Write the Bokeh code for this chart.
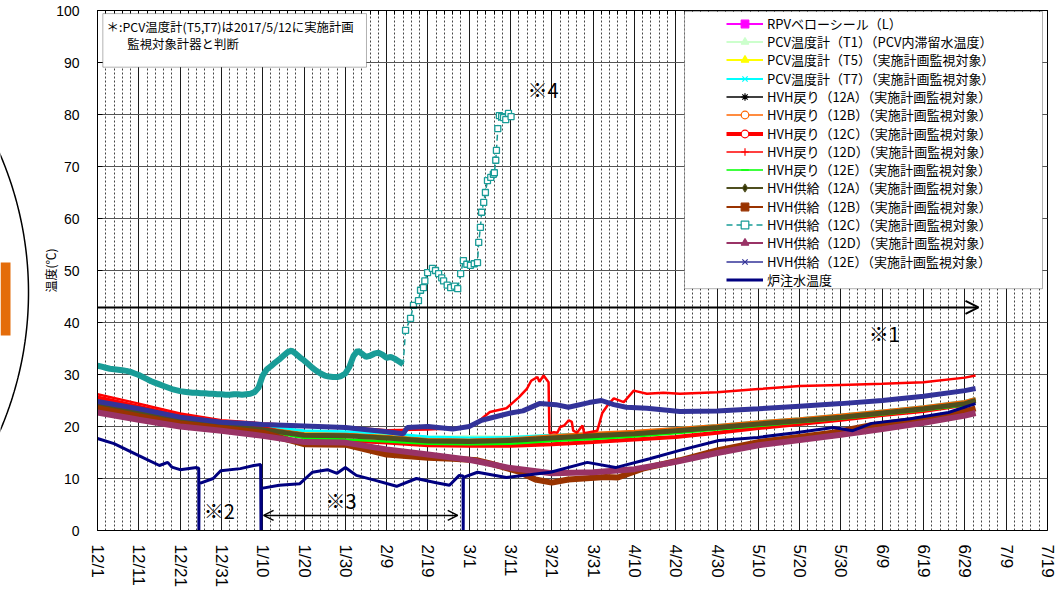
import math
from datetime import datetime, timedelta
from bokeh.plotting import figure
from bokeh.models import (Range1d, FixedTicker, CustomJSTickFormatter, Legend, LegendItem,
                          BoxAnnotation, Label, Arrow, OpenHead, DatetimeAxis)
from bokeh.layouts import row
from bokeh.embed import file_html
from bokeh.resources import INLINE


def D(s):
    md, _, hh = s.partition(" ")
    m, d = (int(v) for v in md.split("-"))
    return datetime(2017 if m == 12 else 2018, m, d, int(hh) if hh else 0)


EPOCH = datetime(1970, 1, 1)


def ms(dt):
    return (dt - EPOCH).total_seconds() * 1000.0


# ---------------- data ----------------
dates_10d = ["12-01", "12-11", "12-21", "12-31", "01-10", "01-20", "01-30", "02-09", "02-19",
             "03-01", "03-11", "03-21", "03-31", "04-10", "04-20", "04-30", "05-10", "05-20",
             "05-30", "06-09", "06-19", "06-29", "07-01 14"]

rpv_L = [24.1, 22.7, 21.3, 20.4, 19.6, 18.6, 18.5, 18.2, 17.6, 17.5, 17.7, 18.3, 18.6, 18.9, 19.4,
         20.0, 20.7, 21.3, 22.0, 22.8, 23.6, 24.6, 25.2]
pcv_t1 = [24.4, 23.0, 21.6, 20.6, 19.8, 18.9, 18.8, 18.5, 18.0, 18.1, 18.0, 18.3, 18.5, 18.8, 19.4,
          20.0, 20.7, 21.3, 22.0, 22.8, 23.6, 24.6, 25.2]
pcv_t5 = [24.3, 22.9, 21.5, 20.5, 19.8, 18.8, 18.6, 18.3, 17.6, 17.5, 17.7, 18.1, 18.5, 18.9, 19.5,
          20.1, 20.8, 21.4, 22.1, 22.9, 23.7, 24.7, 25.2]
pcv_t7 = [24.5, 23.0, 21.6, 20.7, 20.0, 19.2, 19.0, 18.7, 18.0, 17.8, 17.9, 18.3, 18.6, 19.0, 19.6,
          20.2, 20.9, 21.5, 22.2, 23.0, 23.8, 24.8, 25.4]
ret_12a = [24.2, 22.8, 21.4, 20.4, 19.6, 18.5, 18.4, 18.0, 17.4, 17.3, 17.5, 18.0, 18.4, 18.8, 19.4,
           20.0, 20.7, 21.3, 22.0, 22.8, 23.6, 24.6, 25.1]
ret_12b = [24.3, 22.9, 21.5, 20.5, 19.7, 18.6, 18.5, 18.1, 17.5, 17.4, 17.6, 18.2, 18.7, 19.1, 19.6,
           20.2, 20.9, 21.5, 22.2, 23.0, 23.8, 24.8, 25.4]
ret_12c = [25.6, 23.8, 22.0, 20.8, 19.7, 18.0, 17.3, 16.9, 16.4, 16.3, 16.3, 16.6, 17.0, 17.5, 18.0,
           18.8, 19.7, 20.5, 21.3, 22.2, 23.0, 24.2, 24.9]
ret_12e = [23.8, 22.4, 21.0, 20.0, 19.2, 17.8, 17.5, 17.1, 16.7, 16.6, 16.7, 17.2, 17.6, 18.1, 18.7,
           19.4, 20.1, 20.8, 21.5, 22.3, 23.1, 24.1, 24.8]
sup_12a = [24.0, 22.6, 21.2, 20.2, 19.4, 18.3, 18.2, 17.8, 17.2, 17.1, 17.3, 17.8, 18.2, 18.6, 19.2,
           19.8, 20.5, 21.1, 21.8, 22.6, 23.4, 24.4, 25.0]
sup_12d = [22.7, 21.3, 20.0, 19.2, 18.2, 17.0, 16.9, 15.6, 14.6, 13.6, 12.0, 11.0, 11.2, 11.8, 13.2,
           14.9, 16.4, 17.4, 18.4, 19.5, 20.7, 22.1, 22.6]

ret_12d_dates = ["12-01", "12-11", "12-21", "12-31", "01-10", "01-20", "01-30", "02-09", "02-19",
                 "03-01", "03-04", "03-06", "03-10", "03-13", "03-15", "03-16", "03-17 12", "03-18",
                 "03-19", "03-20 05", "03-20 10", "03-21 12", "03-22 08", "03-23", "03-24",
                 "03-25 02", "03-25 20", "03-26 04", "03-27 02", "03-28 10", "03-28 20", "04-01",
                 "04-02 05", "04-03 10", "04-05", "04-07 10", "04-09 20", "04-13", "04-17", "04-21",
                 "04-30", "05-10", "05-20", "05-30", "06-09", "06-19", "06-29", "07-01 14"]
ret_12d = [26.2, 24.4, 22.5, 21.2, 20.6, 20.2, 19.9, 19.3, 19.4,
           19.8, 21.5, 22.8, 23.5, 25.6, 27.3, 28.8, 29.5, 28.6,
           29.8, 28.5, 18.7, 18.9, 18.8, 19.9, 20.2,
           21.2, 20.9, 19.2, 18.8, 20.2, 18.7, 19.2,
           22.6, 24.0, 25.4, 24.7, 26.9, 26.3, 26.5, 26.3,
           26.6, 27.2, 27.8, 28.0, 28.2, 28.5, 29.4, 29.8]

sup_12b_dates = ["12-01", "12-11", "12-21", "12-31", "01-10", "01-20", "01-30", "02-09", "02-19",
                 "02-25", "03-03", "03-06", "03-13", "03-17", "03-21", "03-25", "04-03", "04-06",
                 "04-12", "04-21", "04-30", "05-10", "05-19", "05-28", "06-06", "06-16", "06-25",
                 "07-01 14"]
sup_12b = [23.5, 22.0, 20.6, 19.7, 18.8, 16.6, 16.5, 14.6, 14.0,
           13.8, 13.5, 12.9, 11.3, 9.8, 9.2, 9.8, 10.3, 10.2,
           11.9, 13.5, 15.4, 17.0, 17.9, 18.8, 20.2, 21.2, 22.1, 23.5]

# HVH supply 12C: daily readings from 12/1 to 2/13, then individual readings
sup_12c_daily_start = "12-01"
sup_12c_daily = [31.7, 31.5, 31.3, 31.1, 31.0, 30.9, 30.8, 30.7, 30.5, 30.2, 29.9, 29.5, 29.1, 28.7,
                 28.4, 28.1, 27.8, 27.5, 27.2, 27.0, 26.8, 26.7, 26.6, 26.5, 26.5, 26.4, 26.4, 26.3,
                 26.3, 26.2, 26.2,
                 26.1, 26.1, 26.2, 26.2, 26.1, 26.2, 26.3, 26.6, 27.5, 29.8, 31.0, 31.6, 32.3, 32.9,
                 33.6, 34.3, 34.6, 34.0, 33.3, 32.7, 32.0, 31.3, 30.7, 30.2, 29.8, 29.6, 29.5, 29.5,
                 29.7, 30.2, 31.5,
                 33.6, 34.6, 34.0, 33.4, 33.6, 34.0, 34.2, 33.8, 33.2, 33.4, 33.0, 32.5, 32.0]
sup_12c_late_dates = ["02-13 14", "02-14 19", "02-15 12", "02-16 17", "02-17 05", "02-17 22",
                      "02-18 06", "02-18 22", "02-20 02", "02-20 20", "02-21 14", "02-22 08",
                      "02-22 19", "02-23 16", "02-24 12", "02-25 10", "02-26 05", "02-26 22",
                      "02-27 14", "02-28 10", "03-01 07", "03-02 05", "03-03 00", "03-03 07",
                      "03-03 17", "03-04 00", "03-04 12", "03-04 22", "03-05 10", "03-06 05",
                      "03-06 20", "03-07 02", "03-07 10", "03-07 14", "03-07 22", "03-08 07",
                      "03-08 20", "03-09 07", "03-09 20", "03-10 12", "03-11 03"]
sup_12c_late = [38.5, 40.8, 43.3, 44.2, 46.2, 46.7,
                48.0, 49.6, 50.4, 50.0, 49.4, 48.6,
                48.0, 47.2, 46.7, 47.0, 46.5, 49.4,
                51.9, 51.2, 51.0, 51.3, 51.5, 55.4,
                58.3, 61.2, 63.1, 65.0, 67.3, 67.9,
                68.5, 68.8, 71.2, 73.1, 77.3, 79.8,
                79.6, 79.4, 79.0, 80.2, 79.6]

sup_12e_dates = ["12-01", "12-11", "12-21", "12-31", "01-10", "01-20", "01-30", "02-09", "02-13",
                 "02-14", "02-19", "02-25", "03-01", "03-04", "03-11", "03-14", "03-18", "03-22",
                 "03-25", "03-30", "04-02", "04-05", "04-08", "04-13", "04-21", "04-30", "05-10",
                 "05-20", "05-30", "06-09", "06-19", "06-29", "07-01 14"]
sup_12e = [24.8, 23.4, 21.8, 20.8, 20.4, 20.1, 19.8, 19.0, 18.6,
           19.8, 20.0, 19.5, 20.0, 21.2, 22.6, 23.0, 24.4, 24.2,
           23.7, 24.6, 25.0, 24.2, 23.7, 23.5, 22.9, 23.0, 23.4,
           23.9, 24.4, 25.0, 25.8, 26.9, 27.3]

inj_dates = ["12-01", "12-05", "12-11", "12-16", "12-18", "12-19", "12-21", "12-25", "12-25 12",
             "12-25 13", "12-25 14", "12-29", "12-30 20", "01-04 14", "01-07 20", "01-09 12",
             "01-09 14", "01-09 16", "01-14", "01-19", "01-22", "01-25 16", "01-28", "01-30",
             "02-01 16", "02-06 12", "02-11 10", "02-16 05", "02-21", "02-24 05", "02-26 14",
             "02-27 12", "02-27 13", "02-27 14", "03-03", "03-10", "03-20 16", "03-29 14",
             "04-05 10", "04-13 16", "04-21", "04-30 10", "05-09 20", "05-19", "05-28 05",
             "06-01 20", "06-06 10", "06-15 20", "06-25", "07-01 14"]
inj_temp = [17.7, 16.7, 14.4, 12.5, 13.1, 12.2, 11.7, 12.1, 12.0,
            0.0, 9.0, 10.0, 11.5, 11.9, 12.5, 12.7,
            0.0, 8.1, 8.7, 9.0, 11.2, 11.7, 11.0, 12.1,
            10.6, 9.6, 8.5, 10.0, 9.2, 8.7, 10.6,
            10.5, 0.0, 10.2, 11.2, 10.2, 11.2, 13.1,
            12.1, 13.8, 15.4, 17.3, 17.9, 18.8, 19.8,
            19.2, 20.6, 21.5, 22.7, 24.4]

note_line1 = "＊:PCV温度計(T5,T7)は2017/5/12に実施計画"
note_line2 = "監視対象計器と判断"

# --------------- series assembly ---------------
d10 = [D(s) for s in dates_10d]
c_start = D(sup_12c_daily_start)
sup_12c_daily_x = [c_start + timedelta(days=i) for i in range(len(sup_12c_daily))]
sup_12c_late_x = [D(s) for s in sup_12c_late_dates]
sup_12c_x = sup_12c_daily_x + sup_12c_late_x
sup_12c_y = sup_12c_daily + sup_12c_late

series = {
    "rpv": (d10, rpv_L),
    "t1": (d10, pcv_t1),
    "t5": (d10, pcv_t5),
    "t7": (d10, pcv_t7),
    "r12a": (d10, ret_12a),
    "r12b": (d10, ret_12b),
    "r12c": (d10, ret_12c),
    "r12d": ([D(s) for s in ret_12d_dates], ret_12d),
    "r12e": (d10, ret_12e),
    "s12a": (d10, sup_12a),
    "s12b": ([D(s) for s in sup_12b_dates], sup_12b),
    "s12c": (sup_12c_x, sup_12c_y),
    "s12d": (d10, sup_12d),
    "s12e": ([D(s) for s in sup_12e_dates], sup_12e),
    "inj": ([D(s) for s in inj_dates], inj_temp),
}

# label, color, plot width, legend width, dash, marker, marker fill
styles = {
    "rpv": ("RPVベローシール（L）", "#FF00FF", 2, 2, "solid", "square", "#FF00FF"),
    "t1": ("PCV温度計（T1）（PCV内滞留水温度）", "#CCFFCC", 3, 2, "solid", "triangle", "#CCFFCC"),
    "t5": ("PCV温度計（T5）（実施計画監視対象）", "#FFFF00", 2.5, 2, "solid", "triangle", "#FFFF00"),
    "t7": ("PCV温度計（T7）（実施計画監視対象）", "#00FFFF", 3, 2, "solid", "x", None),
    "r12a": ("HVH戻り（12A）（実施計画監視対象）", "#000000", 3, 1.5, "solid", "asterisk", None),
    "r12b": ("HVH戻り（12B）（実施計画監視対象）", "#FF6600", 3, 1.5, "solid", "circle", "white"),
    "r12c": ("HVH戻り（12C）（実施計画監視対象）", "#FF0000", 4, 4, "solid", "circle", "white"),
    "r12d": ("HVH戻り（12D）（実施計画監視対象）", "#FF0000", 2.5, 1.5, "solid", "cross", None),
    "r12e": ("HVH戻り（12E）（実施計画監視対象）", "#00FF00", 2.5, 1.5, "solid", "dash", None),
    "s12a": ("HVH供給（12A）（実施計画監視対象）", "#4F4F1F", 5, 2, "solid", "diamond", "#333300"),
    "s12b": ("HVH供給（12B）（実施計画監視対象）", "#993300", 6, 2, "solid", "square", "#993300"),
    "s12c": ("HVH供給（12C）（実施計画監視対象）", "#199C97", 1.5, 1.5, "6 4", "square", "white"),
    "s12d": ("HVH供給（12D）（実施計画監視対象）", "#993366", 6, 2, "solid", "triangle", "#993366"),
    "s12e": ("HVH供給（12E）（実施計画監視対象）", "#333399", 5, 1.5, "solid", "x", None),
    "inj": ("炉注水温度", "#000080", 3, 3, "solid", None, None),
}
order = ["rpv", "t1", "t5", "t7", "r12a", "r12b", "r12c", "r12d", "r12e",
         "s12a", "s12b", "s12c", "s12d", "s12e", "inj"]

# --------------- main figure ---------------
JP = "Noto Sans CJK JP"
x_start, x_end = D("12-01"), datetime(2018, 7, 19)
H = 589
FRAME_TOP, FRAME_BOTTOM, FRAME_LEFT = 10, 530, 97
FRAME_H = FRAME_BOTTOM - FRAME_TOP
LEFT_W = 32

p = figure(frame_width=950, frame_height=FRAME_H, x_axis_type="datetime",
           x_range=Range1d(x_start, x_end), y_range=Range1d(0, 100),
           output_backend="svg", toolbar_location=None,
           min_border_left=FRAME_LEFT - LEFT_W, min_border_right=13, min_border_top=FRAME_TOP,
           min_border_bottom=H - FRAME_BOTTOM)
p.background_fill_color = "white"
p.border_fill_color = "white"
p.outline_line_color = "black"
p.outline_line_width = 1

major = []
t = x_start
while t <= x_end:
    major.append(ms(t))
    t += timedelta(days=10)
minor = []
t = x_start
while t <= x_end:
    minor.append(ms(t))
    t += timedelta(days=2)

p.xaxis.ticker = FixedTicker(ticks=major, minor_ticks=minor)
p.xaxis.formatter = CustomJSTickFormatter(
    code="const d = new Date(tick); return (d.getUTCMonth()+1) + '/' + d.getUTCDate();")
p.xaxis.major_label_orientation = -math.pi / 2
p.xaxis.major_label_text_font = "Liberation Sans"
p.xaxis.major_label_text_font_size = "17px"
p.xaxis.major_label_text_color = "black"
p.xaxis.major_label_standoff = 14
p.xaxis.major_tick_out = 0
p.xaxis.major_tick_in = 0
p.xaxis.minor_tick_out = 0
p.xaxis.minor_tick_in = 0
p.xaxis.axis_line_color = "black"

# short inward ticks along the top edge (no labels)
top_axis = DatetimeAxis(ticker=FixedTicker(ticks=major, minor_ticks=minor),
                        major_label_text_font_size="1px", major_label_text_color=None,
                        major_label_standoff=0,
                        major_tick_in=4, major_tick_out=0, minor_tick_in=4, minor_tick_out=0,
                        axis_line_color="black", major_tick_line_color="black",
                        minor_tick_line_color="black")
p.add_layout(top_axis, "above")

p.yaxis.ticker = FixedTicker(ticks=list(range(0, 101, 10)))
p.yaxis.major_label_text_font = "Liberation Sans"
p.yaxis.major_label_text_font_size = "14px"
p.yaxis.major_label_text_color = "black"
p.yaxis.major_label_standoff = 18
p.yaxis.major_tick_out = 0
p.yaxis.major_tick_in = 5
p.yaxis.minor_tick_out = 0
p.yaxis.minor_tick_in = 0
p.yaxis.axis_line_color = "black"
p.yaxis.axis_label = "温度(℃)"
p.yaxis.axis_label_text_font = JP
p.yaxis.axis_label_text_font_size = "12px"
p.yaxis.axis_label_text_font_style = "normal"
p.yaxis.axis_label_text_color = "black"
p.yaxis.axis_label_standoff = -6

p.xgrid.grid_line_color = "#1a1a1a"
p.xgrid.grid_line_width = 1
p.xgrid.minor_grid_line_color = "#444444"
p.xgrid.minor_grid_line_dash = "2 2"
p.xgrid.minor_grid_line_width = 1
p.ygrid.grid_line_color = "#555555"
p.ygrid.grid_line_width = 1

# off-range anchor used only by the legend swatches
far_x = [x_start - timedelta(days=400)]
far_y = [-1000]

items = []
for key in order:
    label, color, pw, lw, dash, marker, mfill = styles[key]
    xs, ys = series[key]
    if key == "s12c":
        p.line(sup_12c_daily_x, sup_12c_daily, line_color=color, line_width=6)
        p.line(xs, ys, line_color=color, line_width=pw, line_dash=dash)
        p.scatter(sup_12c_late_x, sup_12c_late, marker="square", size=6, line_color=color,
                  fill_color="white", line_width=1.3)
    else:
        p.line(xs, ys, line_color=color, line_width=pw, line_dash=dash)
    rs = [p.line(far_x, far_y, line_color=color, line_width=lw, line_dash=dash)]
    if marker:
        rs.append(p.scatter(far_x, far_y, marker=marker, size=7, line_color=color,
                            fill_color=mfill if mfill else color, line_width=1.2))
    items.append(LegendItem(label=label, renderers=rs))

# legend frame (white box) and note box
legend_box = BoxAnnotation(left=ms(D("04-22 03")), right=ms(D("07-17 19")), top=99.8, bottom=46.5,
                           fill_color="white", fill_alpha=1.0, line_color="black", line_width=1)
p.add_layout(legend_box)
note_box = BoxAnnotation(left=ms(D("12-02 07")), right=ms(D("02-04 03")), top=99.4, bottom=89.1,
                         fill_color="white", fill_alpha=1.0, line_color="black", line_width=1)
p.add_layout(note_box)

# one legend per entry so the row pitch (≈18.3 px) can be matched exactly
ROW0, PITCH, ROW_H = 23.3, 18.29, 19
common = dict(padding=0, spacing=0, margin=0, glyph_width=37, glyph_height=ROW_H,
              label_height=ROW_H, label_standoff=4, label_text_font=JP,
              label_text_font_size="13px", label_text_color="black",
              background_fill_alpha=0, border_line_alpha=0)
for k, it in enumerate(items):
    centre = ROW0 + PITCH * k
    loc_y = int(round(FRAME_BOTTOM - (centre + ROW_H / 2)))
    p.add_layout(Legend(items=[it], location=(629, loc_y), **common))

p.add_layout(Label(x=ms(D("12-03 05")), y=96.8, text=note_line1, text_font=JP,
                   text_font_size="12.4px", text_baseline="middle", text_color="black"))
p.add_layout(Label(x=ms(D("12-08 05")), y=93.6, text=note_line2, text_font=JP,
                   text_font_size="12.4px", text_baseline="middle", text_color="black"))

# annotations ※1..※4
p.add_layout(Arrow(end=OpenHead(size=13, line_width=2, line_color="black"),
                   x_start=ms(x_start), y_start=42.9, x_end=ms(D("07-02 07")), y_end=42.9,
                   line_width=2, line_color="black"))
p.add_layout(Arrow(start=OpenHead(size=10, line_width=1.5, line_color="black"),
                   end=OpenHead(size=10, line_width=1.5, line_color="black"),
                   x_start=ms(D("01-10 05")), y_start=2.9, x_end=ms(D("02-26 05")), y_end=2.9,
                   line_width=1.5, line_color="black"))
for txt, xd, yv in [("※1", "06-05 17", 37.9), ("※2", "12-26 17", 3.85),
                    ("※3", "01-25 05", 5.8), ("※4", "03-15 02", 84.9)]:
    p.add_layout(Label(x=ms(D(xd)), y=yv, text=txt, text_font=JP, text_font_size="20px",
                       text_baseline="middle", text_color="black"))

# --------------- left decoration strip (frame sized 1 unit = 1 px) ---------------
pl = figure(frame_width=LEFT_W, frame_height=FRAME_H, x_range=Range1d(0, LEFT_W),
            y_range=Range1d(FRAME_BOTTOM, FRAME_TOP),
            output_backend="svg", toolbar_location=None, min_border=0,
            min_border_left=0, min_border_right=0,
            min_border_top=FRAME_TOP, min_border_bottom=H - FRAME_BOTTOM,
            x_axis_location=None, y_axis_location=None)
pl.grid.visible = False
pl.outline_line_color = None
pl.background_fill_color = "white"
pl.border_fill_color = "white"
ARC_R, ARC_PEAK_X, ARC_Y = 350, 28, 292
arc_t = [math.radians(-30 + 0.5 * i) for i in range(121)]
pl.line([ARC_PEAK_X - ARC_R + ARC_R * math.cos(a) for a in arc_t],
        [ARC_Y + ARC_R * math.sin(a) for a in arc_t], line_color="black", line_width=1.5)
pl.quad(left=[0], right=[10], top=[262], bottom=[335], fill_color="#E46C0A", line_color=None)

layout = row(pl, p)
open("out.html", "w").write(file_html(layout, INLINE))
